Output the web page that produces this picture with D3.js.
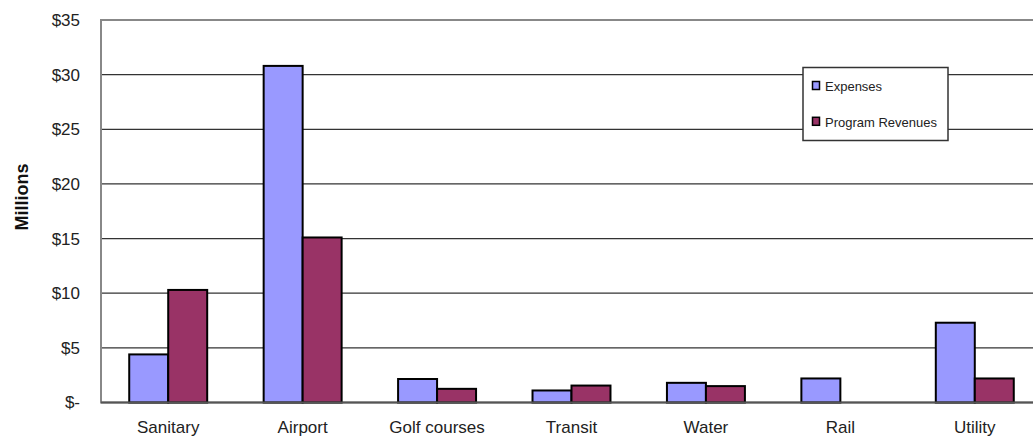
<!DOCTYPE html>
<html>
<head>
<meta charset="utf-8">
<script src="https://cdn.jsdelivr.net/npm/d3@7"></script>
<style>
  html, body { margin: 0; padding: 0; background: #fff; }
  svg { display: block; font-family: "Liberation Sans", Arial, sans-serif; }
</style>
</head>
<body>
<svg id="chart" width="1033" height="436"></svg>
<script>
// Business-type activities: expenses vs. program revenues (millions of dollars)
const categories = ["Sanitary", "Airport", "Golf courses", "Transit", "Water", "Rail", "Utility"];
const seriesNames = ["Expenses", "Program Revenues"];
const expenses = [4.4, 30.8, 2.15, 1.1, 1.8, 2.2, 7.3];
const programRevenues = [10.3, 15.1, 1.25, 1.55, 1.5, 0, 2.2];
const yTicks = [0, 5, 10, 15, 20, 25, 30, 35];
const yTickLabels = ["$-", "$5", "$10", "$15", "$20", "$25", "$30", "$35"];
const colors = ["#9999FF", "#993366"];

const svg = d3.select("#chart");
const plot = { left: 101, right: 1042, top: 20, bottom: 402.5 };

const x = d3.scaleBand()
  .domain(categories)
  .range([plot.left, plot.right])
  .paddingInner(0.42)
  .paddingOuter(0.21);

const xs = d3.scaleBand()
  .domain(seriesNames)
  .range([0, x.bandwidth()])
  .padding(0);

const y = d3.scaleLinear()
  .domain([0, 35])
  .range([plot.bottom, plot.top]);

// gridlines
svg.append("g")
  .selectAll("line")
  .data(yTicks.filter(d => d > 0 && d < 35))
  .join("line")
  .attr("x1", plot.left)
  .attr("x2", plot.right)
  .attr("y1", d => y(d))
  .attr("y2", d => y(d))
  .attr("stroke", "#333")
  .attr("stroke-width", 1.2);

// plot area frame
svg.append("rect")
  .attr("x", plot.left)
  .attr("y", plot.top)
  .attr("width", plot.right - plot.left)
  .attr("height", plot.bottom - plot.top)
  .attr("fill", "none")
  .attr("stroke", "#888")
  .attr("stroke-width", 2);

// bars
const rows = categories.map((c, i) => ({ category: c, values: [expenses[i], programRevenues[i]] }));
const groups = svg.append("g")
  .selectAll("g")
  .data(rows)
  .join("g")
  .attr("transform", d => `translate(${x(d.category)},0)`);

groups.selectAll("rect")
  .data(d => d.values.map((v, j) => ({ name: seriesNames[j], value: v, j })).filter(e => e.value > 0))
  .join("rect")
  .attr("x", d => xs(d.name))
  .attr("y", d => y(d.value))
  .attr("width", xs.bandwidth())
  .attr("height", d => y(0) - y(d.value))
  .attr("fill", d => colors[d.j])
  .attr("stroke", "#000")
  .attr("stroke-width", 2);

// baseline
svg.append("line")
  .attr("x1", plot.left)
  .attr("x2", plot.right)
  .attr("y1", y(0))
  .attr("y2", y(0))
  .attr("stroke", "#555")
  .attr("stroke-width", 2);

// y axis labels
const yAxis = d3.axisLeft(y)
  .tickValues(yTicks)
  .tickSize(0)
  .tickPadding(21)
  .tickFormat((d, i) => yTickLabels[i]);
const gy = svg.append("g")
  .attr("transform", `translate(${plot.left},0)`)
  .call(yAxis);
gy.select(".domain").remove();
gy.selectAll("text")
  .attr("font-size", 17)
  .attr("font-family", "Liberation Sans, Arial, sans-serif")
  .attr("fill", "#222");

// x axis labels
const xAxis = d3.axisBottom(x).tickSize(0).tickPadding(18.5);
const gx = svg.append("g")
  .attr("transform", `translate(0,${plot.bottom})`)
  .call(xAxis);
gx.select(".domain").remove();
gx.selectAll("text")
  .attr("font-size", 17)
  .attr("font-family", "Liberation Sans, Arial, sans-serif")
  .attr("fill", "#222");

// y axis title
svg.append("text")
  .attr("transform", "translate(28,197) rotate(-90)")
  .attr("text-anchor", "middle")
  .attr("font-size", 18)
  .attr("font-weight", "bold")
  .attr("fill", "#111")
  .text("Millions");

// legend
const legend = svg.append("g").attr("transform", "translate(803,67.5)");
legend.append("rect")
  .attr("width", 145)
  .attr("height", 73)
  .attr("fill", "#fff")
  .attr("stroke", "#333")
  .attr("stroke-width", 1.5);
const items = legend.selectAll("g.item")
  .data(seriesNames)
  .join("g")
  .attr("class", "item")
  .attr("transform", (d, i) => `translate(9,${18 + i * 35.8})`);
items.append("rect")
  .attr("x", 0.5)
  .attr("y", -4)
  .attr("width", 7)
  .attr("height", 8)
  .attr("fill", (d, i) => colors[i])
  .attr("stroke", "#000")
  .attr("stroke-width", 1.5);
items.append("text")
  .attr("x", 13)
  .attr("y", 5.5)
  .attr("font-size", 13)
  .attr("fill", "#222")
  .text(d => d);
</script>
</body>
</html>
